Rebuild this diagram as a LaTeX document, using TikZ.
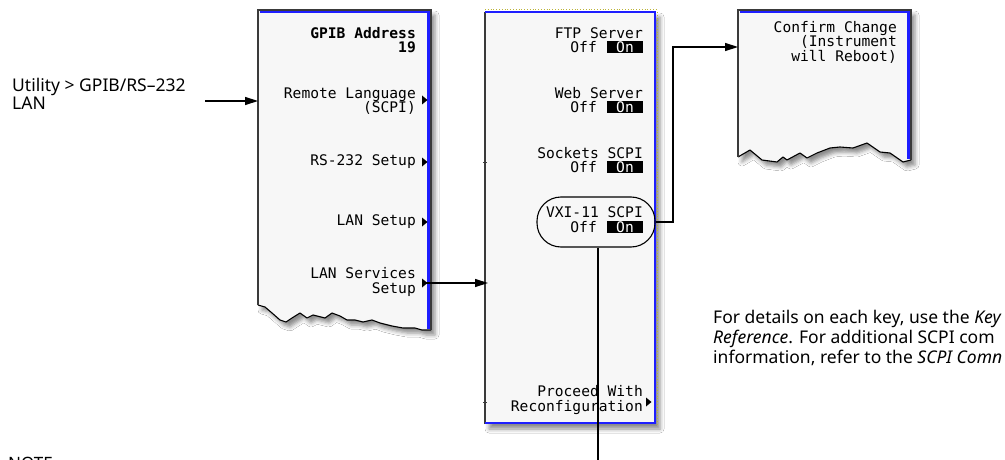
\documentclass[tikz,border=0pt]{standalone}
\usepackage{fontspec}
\setmainfont{Noto Sans}
\newfontfamily\panelfont{DejaVu Sans Mono}
\usetikzlibrary{arrows.meta,shadows.blur}
\definecolor{scrbg}{HTML}{F7F7F7}
\definecolor{scrblue}{HTML}{1E1EFF}
\definecolor{scredge}{HTML}{3A3A3A}
\begin{document}
\begin{tikzpicture}[x=1pt,y=-1pt,
  ptxt/.style={font=\panelfont\fontsize{14.6}{14.5}\selectfont, align=right, anchor=east, inner sep=0pt},
  pbold/.style={ptxt, font=\panelfont\bfseries\fontsize{14.6}{14.5}\selectfont},
  onbox/.style={fill=black, text=white, inner sep=0pt, minimum width=36pt, minimum height=12pt, font=\panelfont\fontsize{14.6}{14.5}\selectfont},
  note/.style={font=\fontsize{17.5}{17.5}\selectfont, align=left, inner sep=0pt},
  body/.style={font=\fontsize{17.5}{20}\selectfont, align=left, inner sep=0pt, anchor=north west},
  conn/.style={line width=1.4pt, black},
  arr/.style={conn, -{Triangle[length=13pt,width=8pt]}},
  shade/.style={blur shadow={shadow xshift=4pt, shadow yshift=-5pt, shadow blur radius=4pt, shadow opacity=45}},
  tri/.style={fill=black}
]
\useasboundingbox (0,0) rectangle (1005,460);
\fill[white] (0,0) rectangle (1005,460);

% ---------- left panel ----------
\node[inner sep=0, minimum width=172pt, minimum height=320pt, anchor=north west] (lp) at (258,10) {};
\fill[scrbg, shade] (258,10) -- (431,10) -- (431,330) -- (422,330) -- (415,328) -- (403,328) -- (392,326) -- (380,323) -- (372,320) -- (363,322) -- (355,320) -- (347,320) -- (340,316) -- (332,313) -- (325,318) -- (313,315) -- (307,318) -- (300,313) -- (292,318) -- (286,322) -- (280,320) -- (272,313) -- (265,307) -- (258,305) -- cycle;
\draw[black, line width=1.1pt, line join=round] (431,330) -- (422,330) -- (415,328) -- (403,328) -- (392,326) -- (380,323) -- (372,320) -- (363,322) -- (355,320) -- (347,320) -- (340,316) -- (332,313) -- (325,318) -- (313,315) -- (307,318) -- (300,313) -- (292,318) -- (286,322) -- (280,320) -- (272,313) -- (265,307) -- (258,305);
\draw[scredge, line width=1.6pt] (258,305) -- (258,10) -- (431,10) -- (431,330);
\draw[scrblue, line width=2.2pt] (259.5,12) -- (428.5,12) -- (428.5,329);

\node[pbold] (gpib) at (416,40) {GPIB Address\\19};
\node[ptxt] (rl) at (416,101) {Remote Language\\(SCPI)};
\node[ptxt] (rs) at (416,162) {RS-232 Setup};
\node[ptxt] (ls) at (416,222) {LAN Setup};
\node[ptxt] (lsv) at (416,282) {LAN Services\\Setup};
\coordinate (trl) at (422,100);
\coordinate (trs) at (422,162);
\coordinate (tls) at (422,222);
\coordinate (tlsv) at (422,283);
\foreach \t in {trl,trs,tls,tlsv} \fill[tri] (\t) ++(0,-4.5) -- ++(5.5,4.5) -- ++(-5.5,4.5) -- cycle;

% ---------- middle panel ----------
\node[inner sep=0, minimum width=170pt, minimum height=411pt, anchor=north west] (mp) at (485,12) {};
\fill[scrbg, shade] (485,12) rectangle (656,424);
\draw[scredge, line width=1.6pt] (485,424) -- (485,12);
\draw[scrblue, line width=2.2pt] (485,12) -- (655,12) -- (655,423) -- (485,423);
\draw[yellow!70!black, line width=0.8pt, dotted] (657.5,12) -- (657.5,424);
\draw[yellow!70!black, line width=0.8pt, dotted] (485,9.8) -- (657,9.8);
\draw[scredge, line width=1pt] (483,162) -- (487,162);
\draw[scredge, line width=1pt] (483,402) -- (487,402);

\node[ptxt] (ftp) at (643,33) {FTP Server};
\node[ptxt] (ftpoff) at (597,47) {Off};
\node[onbox] (ftpon) at (625,47) {On};
\node[ptxt] (web) at (643,93) {Web Server};
\node[ptxt] (weboff) at (597,107) {Off};
\node[onbox] (webon) at (625,107) {On};
\node[ptxt] (sock) at (643,153) {Sockets SCPI};
\node[ptxt] (sockoff) at (597,167) {Off};
\node[onbox] (sockon) at (625,167) {On};
\node[ptxt] (vxi) at (643,212) {VXI-11 SCPI};
\node[ptxt] (vxioff) at (597,227) {Off};
\node[onbox] (vxion) at (625,227) {On};
\node[draw=black, line width=1.1pt, rounded corners=24pt, minimum width=118pt, minimum height=50pt, inner sep=0] (oval) at (596,222) {};
\node[ptxt] (proc) at (643,400) {Proceed With\\Reconfiguration};
\coordinate (tproc) at (646,402);
\fill[tri] (tproc) ++(0,-4.5) -- ++(5.5,4.5) -- ++(-5.5,4.5) -- cycle;

% ---------- right panel ----------
\node[inner sep=0, minimum width=172pt, minimum height=152pt, anchor=north west] (rp) at (738,10) {};
\fill[scrbg, shade] (738,10) -- (911,10) -- (911,160) -- (903,162) -- (890,153) -- (880,152) -- (867,143) -- (853,148) -- (840,147) -- (830,148) -- (817,153) -- (807,158) -- (800,153) -- (787,160) -- (783,157) -- (777,162) -- (762,160) -- (750,150) -- (738,157) -- cycle;
\draw[black, line width=1.1pt, line join=round] (911,160) -- (903,162) -- (890,153) -- (880,152) -- (867,143) -- (853,148) -- (840,147) -- (830,148) -- (817,153) -- (807,158) -- (800,153) -- (787,160) -- (783,157) -- (777,162) -- (762,160) -- (750,150) -- (738,157);
\draw[scredge, line width=1.6pt] (738,157) -- (738,10) -- (911,10) -- (911,160);
\draw[scrblue, line width=2.2pt] (739.5,12) -- (908.5,12) -- (908.5,159);
\node[ptxt] (conf) at (897,42) {Confirm Change\\(Instrument\\will Reboot)};

% ---------- annotations ----------
\node[note, anchor=west] (util) at (12,94) {Utility > GPIB/RS–232\\LAN};
\node[body] (det) at (713,310) {For details on each key, use the \textit{Key}\\\textit{Reference}. For additional SCPI com\\information, refer to the \textit{SCPI Comn}};
\node[font=\bfseries\fontsize{17}{17}\selectfont, anchor=base west, inner sep=0] (notelbl) at (8,469) {NOTE};

% ---------- connectors ----------
\coordinate (u1) at (205,101);
\draw[arr] (u1) -- (u1 -| lp.west);
\draw[arr] (tlsv) -- ([xshift=3pt]tlsv -| mp.west);
\coordinate (turn) at (673,47);
\draw[arr] (oval.east) -| (turn) -- (turn -| rp.west);
\coordinate (bot) at (598,462);
\draw[conn] (oval.south -| bot) -- (bot);
\end{tikzpicture}
\end{document}
